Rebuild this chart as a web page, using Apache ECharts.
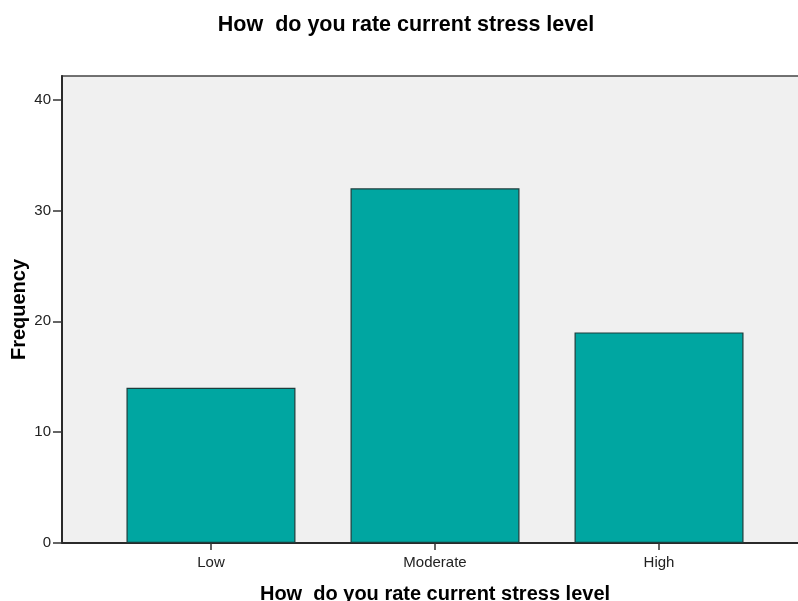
<!DOCTYPE html>
<html>
<head>
<meta charset="utf-8">
<script src="https://cdn.jsdelivr.net/npm/echarts@6/dist/echarts.min.js"></script>
<style>
html,body{margin:0;padding:0;background:#fff;}
#chart{width:798px;height:601px;}
</style>
</head>
<body>
<div id="chart"></div>
<script>
const categories = ['Low', 'Moderate', 'High'];
const frequencies = [14, 32, 19];
const yTicks = [0, 10, 20, 30, 40];
const titleText = 'How  do you rate current stress level';
const xAxisTitle = 'How  do you rate current stress level';
const yAxisTitle = 'Frequency';

const chart = echarts.init(document.getElementById('chart'));
const font = '"Liberation Sans", Arial, sans-serif';
const catIdx = categories.map((c, i) => i);

chart.setOption({
  animation: false,
  backgroundColor: '#ffffff',
  title: [
    { text: titleText, left: 401, top: 9, textAlign: 'center',
      textStyle: { fontFamily: font, fontSize: 21.5, fontWeight: 'bold', color: '#000' } }
  ],
  grid: {
    left: 62, top: 76, width: 746, bottom: 58,
    containLabel: false, outerBoundsMode: 'none',
    show: true, backgroundColor: '#f0f0f0', borderColor: '#444', borderWidth: 1.5
  },
  xAxis: {
    type: 'value', min: -0.665, max: 2.665,
    name: xAxisTitle, nameLocation: 'middle', nameGap: 41,
    nameTextStyle: { fontFamily: font, fontSize: 20, fontWeight: 'bold', color: '#000', verticalAlign: 'top' },
    splitLine: { show: false },
    axisLine: { show: true, onZero: false, lineStyle: { color: '#2a2a2a', width: 2 } },
    axisTick: { show: true, customValues: catIdx, length: 7, lineStyle: { color: '#333', width: 1.5 } },
    axisLabel: { customValues: catIdx, formatter: v => categories[Math.round(v)] || '',
      fontFamily: font, fontSize: 15, color: '#222', margin: 12 }
  },
  yAxis: {
    type: 'value', min: 0, max: 42.13,
    name: yAxisTitle, nameLocation: 'middle', nameGap: 33, nameRotate: 90,
    nameMoveOverlap: false,
    nameTextStyle: { fontFamily: font, fontSize: 20, fontWeight: 'bold', color: '#000' },
    splitLine: { show: false },
    axisLine: { show: true, onZero: false, lineStyle: { color: '#2a2a2a', width: 2 } },
    axisTick: { show: true, customValues: yTicks, length: 9, lineStyle: { color: '#333', width: 1.5 } },
    axisLabel: { customValues: yTicks, fontFamily: font, fontSize: 15, color: '#222', margin: 11 }
  },
  series: [{
    type: 'bar',
    data: frequencies.map((v, i) => [catIdx[i], v]),
    barWidth: 169,
    itemStyle: { color: '#00a6a1', borderColor: '#1d3d3c', borderWidth: 1.2 }
  }]
});
</script>
</body>
</html>
